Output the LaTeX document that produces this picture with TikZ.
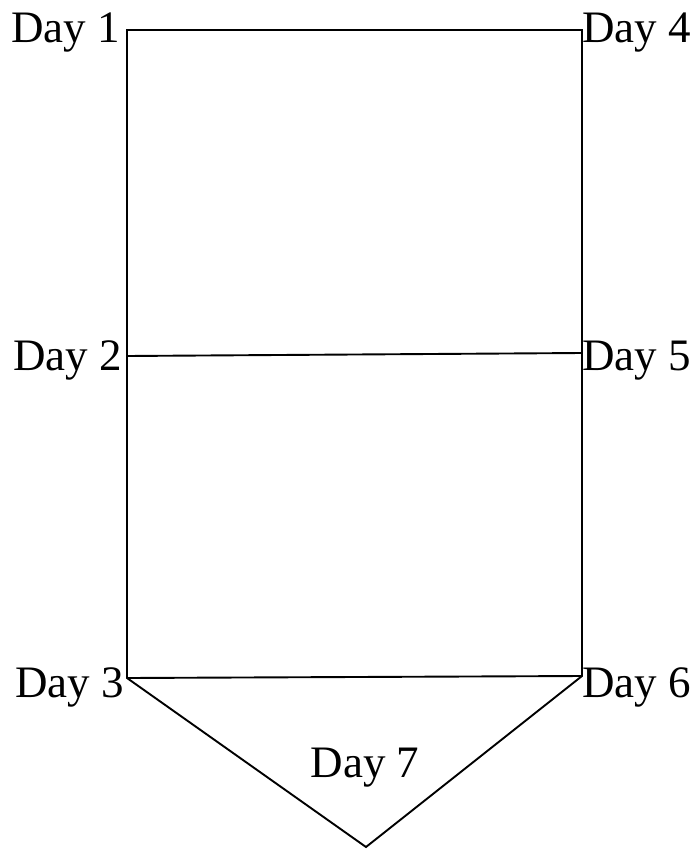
\documentclass[tikz,border=0pt]{standalone}
\usepackage{fontspec}
\setmainfont{Liberation Serif}
\begin{document}
\begin{tikzpicture}[x=1pt,y=-1pt,
  edge/.style={draw=black,line width=1.9pt,line join=miter,line cap=butt},
  daylbl/.style={inner sep=0pt,outer sep=0pt,font=\fontsize{45}{50}\selectfont,text=black}]
\useasboundingbox (0,0) rectangle (694,850);
% corner points
\coordinate (p1) at (127,30);
\coordinate (p4) at (582,30);
\coordinate (p2) at (127,356);
\coordinate (p5) at (582,353);
\coordinate (p3) at (127,678);
\coordinate (p6) at (582,676);
\coordinate (p7) at (366,847);
% outline
\draw[edge] (p1) -- (p4) -- (p5) -- (p6) -- (p7) -- (p3) -- (p2) -- cycle;
\draw[edge] (p2) -- (p5);
\draw[edge] (p3) -- (p6);
% labels
\node[daylbl,anchor=base east] (l1) at (120,43) {Day 1};
\node[daylbl,anchor=base east] (l2) at (122,370) {Day 2};
\node[daylbl,anchor=base east] (l3) at (124,697) {Day 3};
\node[daylbl,anchor=base west] (l4) at (582,43) {Day 4};
\node[daylbl,anchor=base west] (l5) at (582,370) {Day 5};
\node[daylbl,anchor=base west] (l6) at (582,697) {Day 6};
\node[daylbl,anchor=base] (l7) at (365,777) {Day 7};
\end{tikzpicture}
\end{document}
